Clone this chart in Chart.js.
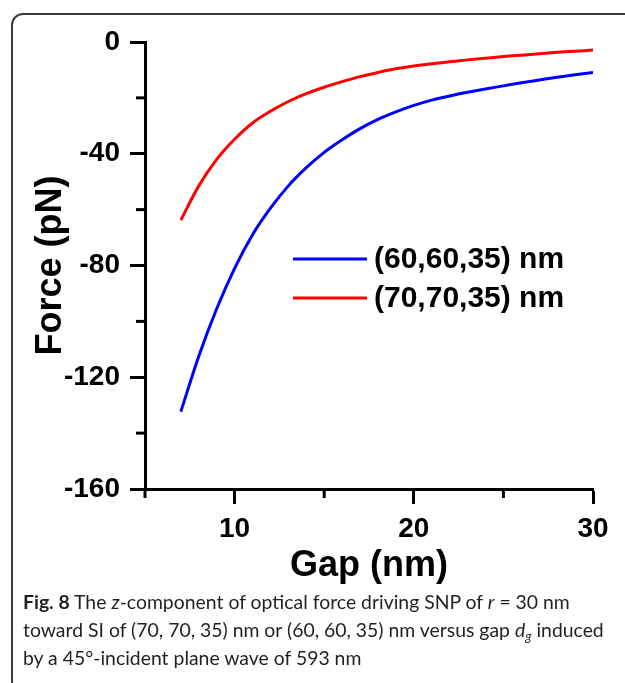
<!DOCTYPE html>
<html>
<head>
<meta charset="utf-8">
<script src="https://cdn.jsdelivr.net/npm/chart.js@4.4.0/dist/chart.umd.min.js"></script>
<style>
  html, body { margin: 0; padding: 0; background: #fff; }
  #wrap { position: relative; width: 625px; height: 683px; overflow: hidden; }
  #moldura { position: absolute; left: 11px; top: 13px; width: 700px; height: 680px; border: 2px solid #3a3a3a; border-radius: 12px; box-sizing: border-box; }
  #grafico { position: absolute; left: 0; top: 0; }
  #legenda-fig { position: absolute; left: 23px; top: 588px; white-space: nowrap; font-family: Lato, "Open Sans", sans-serif; font-size: 19.4px; line-height: 28px; color: #231f20; }
  #legenda-fig sub { font-size: 13px; line-height: 0; vertical-align: -4px; }
</style>
</head>
<body>
<div id="wrap">
  <div id="moldura"></div>
  <canvas id="grafico" width="625" height="683"></canvas>
  <div id="legenda-fig"><b>Fig. 8</b> The <i>z</i>-component of optical force driving SNP of <i>r</i> = 30 nm<br>toward SI of (70, 70, 35) nm or (60, 60, 35) nm versus gap <i>d<sub>g</sub></i> induced<br>by a 45°-incident plane wave of 593 nm</div>
</div>
<script>
// gap em nm
const gaps = [7, 8, 9, 10, 11, 12, 13, 14, 15, 16, 17, 18, 19, 20, 21, 22, 23, 24, 25, 26, 27, 28, 29, 30];
// forca em pN
const forca6060 = [-132.3, -112.5, -95.5, -81, -69, -59.5, -51.5, -45, -39.5, -35, -31, -27.7, -25, -22.7, -20.8, -19.3, -18, -16.8, -15.7, -14.6, -13.6, -12.6, -11.7, -10.9];
const forca7070 = [-63.7, -51.5, -42, -34.8, -29, -24.8, -21.3, -18.5, -16.2, -14.2, -12.4, -10.9, -9.6, -8.6, -7.8, -7.1, -6.4, -5.8, -5.2, -4.7, -4.2, -3.7, -3.3, -2.9];
const nomesSeries = ["(60,60,35) nm", "(70,70,35) nm"];
const coresSeries = ["#0000ff", "#ff0000"];
const ticksX = [10, 20, 30];
const ticksY = [0, -40, -80, -120, -160];

const fonte = '"Liberation Sans", Arial, sans-serif';

function pontos(valores) {
  return gaps.map((g, i) => ({ x: g, y: valores[i] }));
}

// ticks menores (sem rotulo), mais curtos
const ticksMenores = {
  id: 'ticksMenores',
  afterDraw(chart) {
    const { ctx, scales: { x, y } } = chart;
    ctx.save();
    ctx.strokeStyle = '#000';
    ctx.lineWidth = 3;
    x.ticks.forEach(t => {
      if (ticksX.includes(t.value)) return;
      const px = x.getPixelForValue(t.value);
      ctx.beginPath();
      ctx.moveTo(px, x.top);
      ctx.lineTo(px, x.top + 9);
      ctx.stroke();
    });
    y.ticks.forEach(t => {
      if (ticksY.includes(t.value)) return;
      const py = y.getPixelForValue(t.value);
      ctx.beginPath();
      ctx.moveTo(y.right, py);
      ctx.lineTo(y.right - 9, py);
      ctx.stroke();
    });
    ctx.restore();
  }
};

// legenda dentro da area do grafico
const legendaSeries = {
  id: 'legendaSeries',
  afterDraw(chart) {
    const ctx = chart.ctx;
    ctx.save();
    ctx.font = 'bold 30px ' + fonte;
    ctx.textBaseline = 'middle';
    chart.data.datasets.forEach((ds, i) => {
      const y = 259 + i * 39;
      ctx.strokeStyle = ds.borderColor;
      ctx.lineWidth = 3;
      ctx.beginPath();
      ctx.moveTo(293, y);
      ctx.lineTo(367, y);
      ctx.stroke();
      ctx.fillStyle = '#000';
      ctx.fillText(ds.label, 374, y + 1);
    });
    ctx.restore();
  }
};

const ctx = document.getElementById('grafico').getContext('2d');
new Chart(ctx, {
  type: 'line',
  data: {
    datasets: [
      { label: nomesSeries[0], data: pontos(forca6060), borderColor: coresSeries[0], borderWidth: 3, pointRadius: 0, cubicInterpolationMode: 'monotone' },
      { label: nomesSeries[1], data: pontos(forca7070), borderColor: coresSeries[1], borderWidth: 3, pointRadius: 0, cubicInterpolationMode: 'monotone' }
    ]
  },
  options: {
    responsive: false,
    animation: false,
    layout: { autoPadding: false, padding: { left: 29, top: 42, right: 32, bottom: 95 } },
    plugins: { legend: { display: false }, tooltip: { enabled: false } },
    scales: {
      x: {
        type: 'linear',
        min: 5,
        max: 30,
        afterFit: s => { s.height = 99; },
        ticks: {
          stepSize: 5,
          padding: 8,
          color: '#000',
          font: { family: fonte, size: 28, weight: 'bold' },
          callback: v => ticksX.includes(v) ? v : ''
        },
        grid: {
          drawOnChartArea: false,
          tickLength: 15,
          tickWidth: 3,
          tickColor: c => ticksX.includes(c.tick.value) ? '#000' : 'rgba(0,0,0,0)'
        },
        border: { color: '#000', width: 3 },
        title: { display: true, text: 'Gap (nm)', color: '#000', padding: 0, font: { family: fonte, size: 36, weight: 'bold' } }
      },
      y: {
        min: -160,
        max: 0,
        afterFit: s => { s.width = 116; },
        ticks: {
          stepSize: 20,
          padding: 10,
          color: '#000',
          font: { family: fonte, size: 28, weight: 'bold' },
          callback: v => ticksY.includes(v) ? v : ''
        },
        grid: {
          drawOnChartArea: false,
          tickLength: 15,
          tickWidth: 3,
          tickColor: c => ticksY.includes(c.tick.value) ? '#000' : 'rgba(0,0,0,0)'
        },
        border: { color: '#000', width: 3 },
        title: { display: true, text: 'Force (pN)', color: '#000', padding: 0, font: { family: fonte, size: 36, weight: 'bold' } }
      }
    }
  },
  plugins: [ticksMenores, legendaSeries]
});
</script>
</body>
</html>
